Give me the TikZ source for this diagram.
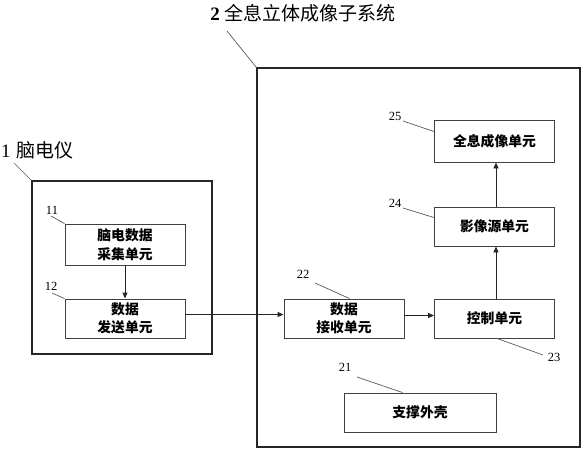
\documentclass[tikz,border=0pt]{standalone}
\usepackage{fontspec}
\setmainfont{Liberation Serif}
\newfontfamily\cjk{Noto Sans CJK SC}
\usetikzlibrary{arrows.meta}
\begin{document}
\begin{tikzpicture}[x=1pt,y=-1pt,
  outerbox/.style={draw=black!85,line width=1.6pt,inner sep=0pt},
  unitbox/.style={draw=black!75,line width=0.9pt,inner sep=0pt,align=center,
    font=\cjk\bfseries\fontsize{13.8}{18.5}\selectfont},
  leader/.style={draw=black!65,line width=0.7pt},
  num/.style={font=\fontsize{12.5}{13}\selectfont,inner sep=0pt},
  flow/.style={draw=black!85,line width=0.9pt,-{Triangle[length=6pt,width=5pt]}}]
\useasboundingbox (0,0) rectangle (583,450);
% outer boxes
\node[outerbox,minimum width=323pt,minimum height=379pt] (b2) at (418.5,257.5) {};
\node[outerbox,minimum width=180pt,minimum height=173pt] (b1) at (122,267.5) {};
% titles
\node[inner sep=0pt] (t2) at (303,13) {{\fontsize{19}{20}\selectfont\bfseries 2}\hspace{5pt}{\cjk\fontsize{19}{20}\selectfont 全息立体成像子系统}};
\node[inner sep=0pt,anchor=west] (t1) at (1,150) {{\fontsize{19}{20}\selectfont 1}\hspace{6pt}{\cjk\fontsize{19}{20}\selectfont 脑电仪}};
% unit boxes
\node[unitbox,minimum width=120pt,minimum height=41pt] (b11) at (125,244.5) {脑电数据\\采集单元};
\node[unitbox,minimum width=120pt,minimum height=39pt] (b12) at (125,318.5) {数据\\发送单元};
\node[unitbox,minimum width=120pt,minimum height=39pt] (b22) at (344,318.5) {数据\\接收单元};
\node[unitbox,minimum width=120pt,minimum height=39pt] (b23) at (494.5,318.5) {控制单元};
\node[unitbox,minimum width=120pt,minimum height=39pt] (b24) at (494.5,226.5) {影像源单元};
\node[unitbox,minimum width=120pt,minimum height=42pt] (b25) at (494.5,141) {全息成像单元};
\node[unitbox,minimum width=152pt,minimum height=39pt] (b21) at (420,412.5) {支撑外壳};
% number labels
\node[num] (n11) at (52,210) {11};
\node[num] (n12) at (51,286) {12};
\node[num] (n25) at (395,116) {25};
\node[num] (n24) at (395,203) {24};
\node[num] (n22) at (303,274) {22};
\node[num] (n23) at (554,357) {23};
\node[num] (n21) at (345,367) {21};
% leader lines
\coordinate (l2) at (227,31);
\coordinate (l1) at (14,163);
\coordinate (l11) at (51,216);
\coordinate (l12) at (52,293);
\coordinate (l25) at (403,121);
\coordinate (l24) at (403,208);
\coordinate (l22) at (315,283);
\coordinate (l23) at (543,355);
\coordinate (l21) at (357,377);
\draw[leader] (l2) -- (b2.north west);
\draw[leader] (l1) -- (b1.north west);
\draw[leader] (l11) -- (b11.north west);
\draw[leader] (l12) -- (b12.north west);
\draw[leader] (l25) -- ([yshift=-12pt]b25.north west);
\draw[leader] (l24) -- ([yshift=-11pt]b24.north west);
\draw[leader] (l22) -- ([xshift=66pt]b22.north west);
\draw[leader] ([xshift=63pt]b23.south west) -- (l23);
\draw[leader] (l21) -- ([xshift=59pt]b21.north west);
% flow arrows
\draw[flow] (b11.south) -- (b12.north);
\draw[flow] ([yshift=4pt]b12.east) -- ([yshift=4pt]b22.west);
\draw[flow] ([yshift=3pt]b22.east) -- ([yshift=3pt]b23.west);
\draw[flow] ([xshift=1.5pt]b23.north) -- ([xshift=1.5pt]b24.south);
\draw[flow] ([xshift=1.5pt]b24.north) -- ([xshift=1.5pt]b25.south);
\end{tikzpicture}
\end{document}
